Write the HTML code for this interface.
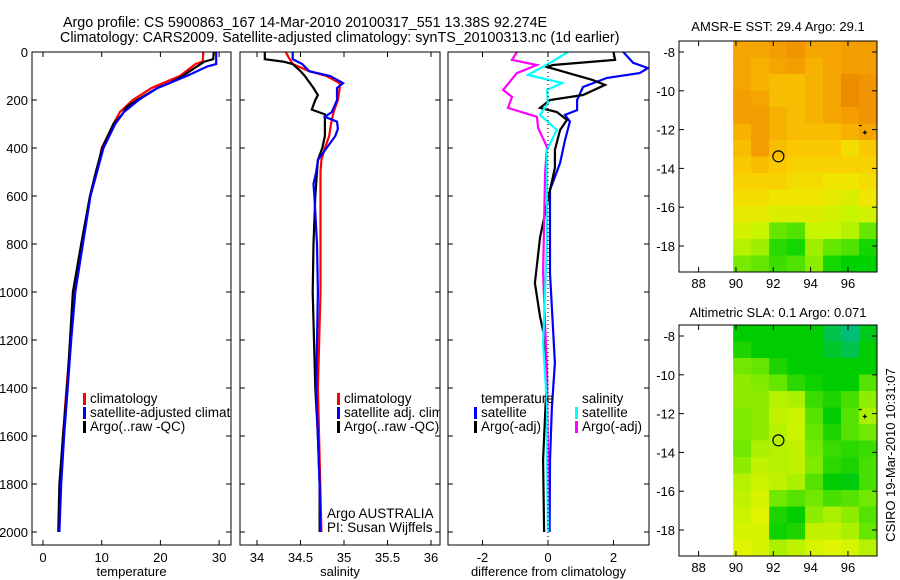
<!DOCTYPE html>
<html><head><meta charset="utf-8"><style>
body{margin:0;background:#fff;}
svg{display:block;font-family:"Liberation Sans",sans-serif;}
</style></head><body>
<svg id="fig" width="900" height="580" viewBox="0 0 900 580">
<text x="63" y="27" font-size="14.3">Argo profile: CS 5900863_167 14-Mar-2010 20100317_551 13.38S 92.274E</text>
<text x="60" y="42" font-size="14.3">Climatology: CARS2009. Satellite-adjusted climatology: synTS_20100313.nc (1d earlier)</text>
<text x="778" y="31" font-size="13" text-anchor="middle">AMSR-E SST: 29.4 Argo: 29.1</text>
<text x="778" y="317" font-size="13" text-anchor="middle">Altimetric SLA: 0.1 Argo: 0.071</text>
<text transform="translate(895,455) rotate(-90)" font-size="13" text-anchor="middle">CSIRO 19-Mar-2010 10:31:07</text>
</svg>
<script>
// ---- data ----
const tempClimDepth=[0,40,50,100,150,200,250,300,400,500,600,800,1000,1200,1400,1600,1800,2000];
const tempClim=[27.3,27.2,26,23.3,18.5,15.3,13.1,12,10,9.2,8,6.6,5.2,4.7,4.0,3.4,2.9,2.7];
const tempSatDepth=[0,50,60,100,150,200,250,300,400,500,600,800,1000,1200,1400,1600,1800,2000];
const tempSat=[29.5,29.5,28,24.5,19.5,16.3,13.8,12.3,10.3,9.2,8.1,6.8,5.5,4.8,4.2,3.6,3.1,2.8];
const tempArgoDepth=[0,30,40,80,100,130,150,200,230,260,300,400,500,600,800,1000,1200,1400,1600,1800,2000];
const tempArgo=[29.1,29.0,27.5,25,23.8,21.5,19.5,16,14.2,13.5,12,10.1,9,8,6.5,5.1,4.6,4.1,3.4,2.8,2.6];

const salClimDepth=[0,20,50,80,100,130,150,200,250,300,350,400,450,500,800,1000,1400,2000];
const salClim=[34.33,34.36,34.41,34.6,34.8,34.95,34.95,34.93,34.88,34.85,34.83,34.78,34.74,34.73,34.73,34.73,34.7,34.74];
const salSatDepth=[0,30,50,80,100,130,150,200,250,270,290,320,350,400,450,500,550,600,800,1000,1400,1600,1800,2000];
const salSat=[34.41,34.41,34.52,34.6,34.84,34.99,34.92,34.92,34.86,34.78,34.92,34.93,34.9,34.8,34.7,34.68,34.65,34.66,34.69,34.7,34.68,34.7,34.72,34.73];
const salArgoDepth=[0,30,40,50,80,100,150,180,200,240,260,300,350,400,450,500,600,800,1000,1400,1600,1800,2000];
const salArgo=[34.09,34.09,34.3,34.41,34.5,34.55,34.65,34.7,34.67,34.63,34.78,34.78,34.78,34.75,34.7,34.69,34.67,34.65,34.64,34.67,34.7,34.72,34.72];

const dTSatDepth=[0,45,67,88,108,146,200,242,262,290,367,462,575,921,1296,1479,1700,2000];
const dTSat=[2.3,2.6,3.05,2.8,1.8,1.07,0.89,0.89,0.52,0.67,0.52,0.37,0.06,0.06,0.21,0.12,0.06,0.05];
const dTArgoDepth=[0,33,54,62,117,137,179,200,233,250,283,325,408,483,575,771,963,1104,1200,1337,1700,2000];
const dTArgo=[2.0,2.05,0.15,-0.03,1.37,1.74,1.07,0.06,-0.24,0.27,0.58,0.37,0.21,0.21,0.06,-0.24,-0.4,-0.24,-0.09,-0.03,-0.15,-0.12];
const dSSatDepth=[0,45,96,129,158,213,262,325,408,783,1213,1479,1700,2000];
const dSSat=[0.61,0.06,-0.61,0.43,-0.03,0,-0.24,0.27,-0.03,-0.03,-0.15,-0.03,-0.03,0];
const dSArgoDepth=[0,33,54,88,158,187,233,270,317,396,504,921,1337,1700,2000];
const dSArgo=[-0.95,-1.1,-0.34,-0.95,-1.37,-1.1,-1.22,-0.34,-0.3,-0.03,-0.09,-0.15,-0.03,0,0];

const depthTicks=[0,200,400,600,800,1000,1200,1400,1600,1800,2000];
const tempTicks=[0,10,20,30];
const salTicks=[34,34.5,35,35.5,36];
const diffTicks=[-2,0,2];
const lonTicks=[88,90,92,94,96];
const latTicks=[-8,-10,-12,-14,-16,-18];

const sstGrid=[
[29.5,29.5,29.6,29.7,29.5,29.5,29.6,29.6],
[29.5,29.4,29.5,29.6,29.4,29.5,29.6,29.6],
[29.5,29.4,29.3,29.3,29.4,29.5,29.8,29.7],
[29.6,29.5,29.3,29.3,29.4,29.5,29.8,29.7],
[29.6,29.6,29.4,29.3,29.4,29.5,29.6,29.7],
[29.4,29.6,29.4,29.3,29.3,29.3,29.4,29.5],
[29.3,29.6,29.3,29.2,29.2,29.2,29.0,29.2],
[29.2,29.3,29.2,29.1,29.1,29.1,29.1,29.1],
[29.1,29.1,29.1,29.0,29.0,28.9,28.9,29.0],
[29.0,29.0,28.9,28.9,28.9,28.8,28.7,28.9],
[28.8,28.8,28.7,28.7,28.7,28.6,28.5,28.6],
[28.6,28.5,28.0,27.9,28.5,28.5,28.4,28.0],
[28.4,28.3,27.7,27.6,28.3,28.0,27.9,27.6],
[28.1,28.0,27.8,27.9,28.2,27.6,27.5,27.5]];
const slaGrid=[
[0.00,0.00,0.00,0.00,0.00,-0.05,-0.08,-0.02],
[0.02,0.00,0.00,0.00,0.00,-0.03,-0.05,0.00],
[0.08,0.07,0.02,0.00,0.00,0.00,0.00,0.00],
[0.10,0.09,0.07,0.03,0.01,0.00,0.00,0.06],
[0.10,0.10,0.13,0.12,0.04,0.02,0.05,0.10],
[0.09,0.10,0.14,0.15,0.06,0.00,0.06,0.12],
[0.09,0.10,0.13,0.15,0.07,0.02,0.06,0.08],
[0.08,0.12,0.13,0.14,0.08,0.04,0.03,0.04],
[0.10,0.14,0.13,0.14,0.09,0.03,0.02,0.05],
[0.13,0.15,0.14,0.12,0.06,0.00,-0.01,0.05],
[0.14,0.16,0.08,0.06,0.08,0.05,0.06,0.08],
[0.15,0.17,0.02,0.00,0.10,0.12,0.10,0.06],
[0.16,0.16,0.01,0.02,0.14,0.14,0.12,0.07],
[0.17,0.16,0.12,0.14,0.16,0.17,0.16,0.13]];
const floatLon=92.274, floatLat=-13.38;

// ---- drawing ----
const NS='http://www.w3.org/2000/svg';
const svg=document.getElementById('fig');
function mk(tag,attrs,parent){const e=document.createElementNS(NS,tag);for(const k in attrs)e.setAttribute(k,attrs[k]);(parent||svg).appendChild(e);return e;}
function txt(x,y,s,size,anchor,parent){const e=mk('text',{x:x,y:y,'font-size':size,'text-anchor':anchor||'start'},parent);e.textContent=s;return e;}

const TOP=52,BOT=545;
const yD=d=>TOP+d*0.24;
const panels=[
 {name:'temperature',x0:32,x1:231,fx:v=>43+v*5.87,ticks:tempTicks,label:'temperature'},
 {name:'salinity',x0:240,x1:440,fx:v=>257+(v-34)*87,ticks:salTicks,label:'salinity'},
 {name:'difference',x0:448,x1:649,fx:v=>548+v*32.75,ticks:diffTicks,label:'difference from climatology'}];

panels.forEach((p,i)=>{
  const g=mk('g',{});
  
  
  const cid='clip'+i;
  const cp=mk('clipPath',{id:cid},g);mk('rect',{x:p.x0,y:TOP,width:p.x1-p.x0,height:BOT-TOP},cp);
  p.g=g;p.clip='url(#'+cid+')';
  depthTicks.forEach(d=>{
    mk('line',{x1:p.x0,x2:p.x0+5,y1:yD(d),y2:yD(d),stroke:'#000'},g);
    mk('line',{x1:p.x1-5,x2:p.x1,y1:yD(d),y2:yD(d),stroke:'#000'},g);
    if(i===0){const t=txt(p.x0-4,yD(d)+5,String(d),13,'end',g);}
  });
  p.ticks.forEach(v=>{
    const x=p.fx(v);
    mk('line',{x1:x,x2:x,y1:BOT,y2:BOT-5,stroke:'#000'},g);
    mk('line',{x1:x,x2:x,y1:TOP,y2:TOP+5,stroke:'#000'},g);
    const t=txt(x,562,String(v),13,'middle',g);
    
    
  });
  const lab=txt((p.x0+p.x1)/2,576,p.label,13,'middle',g);
  
  
});
const zl=mk('line',{x1:panels[2].fx(0),x2:panels[2].fx(0),y1:TOP,y2:BOT,stroke:'#000','stroke-dasharray':'1,3'});



function series(p,depths,vals,color,name){
  const pts=depths.map((d,k)=>p.fx(vals[k]).toFixed(1)+','+yD(d).toFixed(1)).join(' ');
  const l=mk('polyline',{points:pts,fill:'none',stroke:color,'stroke-width':2.2,'clip-path':p.clip},p.g);
  
  
}
series(panels[0],tempClimDepth,tempClim,'#f00','temp-climatology-line');
series(panels[0],tempArgoDepth,tempArgo,'#000','temp-argo-line');
series(panels[0],tempSatDepth,tempSat,'#00f','temp-satellite-line');
series(panels[1],salClimDepth,salClim,'#f00','sal-climatology-line');
series(panels[1],salArgoDepth,salArgo,'#000','sal-argo-line');
series(panels[1],salSatDepth,salSat,'#00f','sal-satellite-line');
series(panels[2],dTSatDepth,dTSat,'#00f','diff-temp-satellite-line');
series(panels[2],dTArgoDepth,dTArgo,'#000','diff-temp-argo-line');
series(panels[2],dSArgoDepth,dSArgo,'#f0f','diff-sal-argo-line');
series(panels[2],dSSatDepth,dSSat,'#0ff','diff-sal-satellite-line');

function legend(p,x,y,items,name){
  const g=mk('g',{'clip-path':p.clip},p.g);
  
  
  items.forEach((it,k)=>{
    const yy=y+k*14;
    if(it[1])mk('rect',{x:x-7,y:yy-10,width:3,height:12,fill:it[1]},g);
    txt(x,yy,it[0],13.5,'start',g);
  });
}
legend(panels[0],90,403,[['climatology','#f00'],['satellite-adjusted climatology','#00f'],['Argo(..raw -QC)','#000']],'temp-legend');
legend(panels[1],344,403,[['climatology','#f00'],['satellite adj. clim.','#00f'],['Argo(..raw -QC)','#000']],'sal-legend');
legend(panels[2],481,403,[['temperature',null],['satellite','#00f'],['Argo(-adj)','#000']],'diff-temp-legend');
legend(panels[2],582,403,[['salinity',null],['satellite','#0ff'],['Argo(-adj)','#f0f']],'diff-sal-legend');
const a1=txt(327,518,'Argo AUSTRALIA',13.5,'start',panels[1].g);


const a2=txt(327,532,'PI: Susan Wijffels',13.5,'start',panels[1].g);


panels.forEach(p=>mk('rect',{x:p.x0,y:TOP,width:p.x1-p.x0,height:BOT-TOP,fill:'none',stroke:'#000'},p.g));

// ---- maps ----
function lerpCol(stops,v){
  if(v<=stops[0][0])return stops[0][1];
  for(let k=1;k<stops.length;k++){if(v<=stops[k][0]){const a=stops[k-1],b=stops[k],t=(v-a[0])/(b[0]-a[0]);
    return 'rgb('+[0,1,2].map(c=>Math.round(a[1][c]+(b[1][c]-a[1][c])*t)).join(',')+')';}}
  const s=stops[stops.length-1][1];return 'rgb('+s.join(',')+')';
}
function rgbStr(c){return typeof c==='string'?c:'rgb('+c.join(',')+')';}
const sstStops=[[27.5,[0,210,0]],[28.0,[100,230,0]],[28.5,[200,245,0]],[28.9,[240,230,0]],[29.2,[250,200,0]],[29.5,[245,165,0]],[29.8,[238,140,0]]];
const slaStops=[[-0.08,[0,190,120]],[0.0,[0,205,0]],[0.07,[100,230,0]],[0.12,[170,240,0]],[0.17,[225,245,0]]];

function drawMap(top,grid,stops,name){
  const L=679,R=877,H=231;
  const g=mk('g',{});
  
  
  const lonX=lon=>679+(lon-86.95)*18.67;
  const latY=lat=>top+11+(-8-lat)*19.4;
  const dx0=lonX(89.85),dx1=R,rows=grid.length,cols=grid[0].length;
  const cw=(dx1-dx0)/cols,ch=H/rows;
  grid.forEach((row,r)=>row.forEach((v,c)=>{
    const cell=mk('rect',{x:(dx0+c*cw).toFixed(2),y:(top+r*ch).toFixed(2),width:(cw+0.5).toFixed(2),height:(ch+0.5).toFixed(2),fill:rgbStr(lerpCol(stops,v))},g);
    
    
  }));
  mk('rect',{x:L,y:top,width:R-L,height:H,fill:'none',stroke:'#000'},g);
  lonTicks.forEach(lon=>{const x=lonX(lon);
    mk('line',{x1:x,x2:x,y1:top,y2:top+5,stroke:'#000'},g);
    mk('line',{x1:x,x2:x,y1:top+H,y2:top+H-5,stroke:'#000'},g);
    const t=txt(x,top+H+16,String(lon),13,'middle',g);
    
    });
  latTicks.forEach(lat=>{const y=latY(lat);
    mk('line',{x1:L,x2:L+5,y1:y,y2:y,stroke:'#000'},g);
    mk('line',{x1:R-5,x2:R,y1:y,y2:y,stroke:'#000'},g);
    const t=txt(L-4,y+5,String(lat),13,'end',g);
    
    });
  const circ=mk('circle',{cx:lonX(floatLon),cy:latY(floatLat),r:5.5,fill:'none',stroke:'#000','stroke-width':1.2},g);
  
  
  const px=lonX(96.9),py=latY(-12.15);
  mk('path',{d:`M${px-2},${py}h4M${px},${py-2}v4M${px-6},${py-7}h3`,stroke:'#000','stroke-width':1.2},g);
}
drawMap(41,sstGrid,sstStops,'sst-map');
drawMap(325,slaGrid,slaStops,'sla-map');
</script>
</body></html>
